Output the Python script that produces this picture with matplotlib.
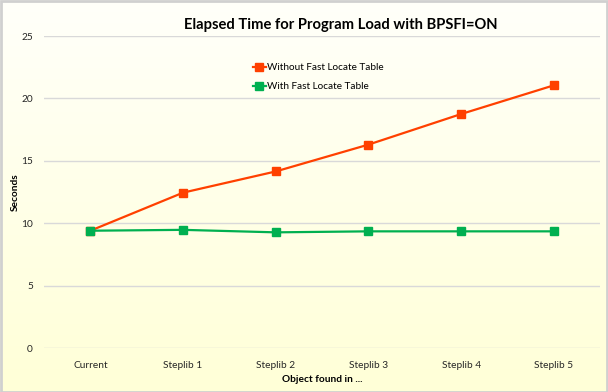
"""Elapsed time for program load, with and without the fast locate table."""

import matplotlib

matplotlib.use("Agg")

import matplotlib.pyplot as plt
import numpy as np
from matplotlib.patches import Rectangle

categories = ["Current", "Steplib 1", "Steplib 2", "Steplib 3", "Steplib 4", "Steplib 5"]
without_flt = [9.4, 12.45, 14.15, 16.3, 18.75, 21.05]
with_flt = [9.4, 9.47, 9.27, 9.35, 9.35, 9.35]
series_labels = ["Without Fast Locate Table", "With Fast Locate Table"]
y_ticks = [0, 5, 10, 15, 20, 25]

plt.rcParams["font.family"] = ["Lato", "DejaVu Sans"]

fig = plt.figure(figsize=(6.08, 3.92), dpi=100)

# background gradient: near white at top, pale yellow at bottom
bg_ax = fig.add_axes([0, 0, 1, 1], zorder=-10)
grad = np.linspace(0, 1, 256).reshape(-1, 1)
top = np.array([255, 255, 250]) / 255.0
bottom = np.array([255, 255, 215]) / 255.0
img = top[None, None, :] * (1 - grad[..., None]) + bottom[None, None, :] * grad[..., None]
bg_ax.imshow(img, aspect="auto", extent=[0, 1, 0, 1])
bg_ax.add_patch(Rectangle((0.001, 0.001), 0.997, 0.996, transform=bg_ax.transAxes,
                          fill=False, edgecolor="#D0D0D0", linewidth=2))
bg_ax.set_xlim(0, 1)
bg_ax.set_ylim(0, 1)
bg_ax.axis("off")

ax = fig.add_axes([0.0724, 0.1122, 0.9146, 0.7958])
ax.patch.set_alpha(0)

x = np.arange(len(categories))
ax.plot(x, without_flt, color="#FF4000", linewidth=1.6, marker="s", markersize=5.2,
        label=series_labels[0], zorder=3)
ax.plot(x, with_flt, color="#00B050", linewidth=1.6, marker="s", markersize=5.2,
        label=series_labels[1], zorder=3)

ax.set_xlim(-0.5, len(categories) - 0.5)
ax.set_ylim(0, 25)
ax.set_yticks(y_ticks)
ax.set_xticks(x)
ax.set_xticklabels(categories)
ax.grid(axis="y", color="#D9D9D9", linewidth=1)
ax.set_axisbelow(True)
for s in ax.spines.values():
    s.set_visible(False)
ax.tick_params(axis="both", length=0, labelsize=7.3, colors="#262626")
ax.tick_params(axis="x", pad=9)
ax.tick_params(axis="y", pad=8)

ax.set_xlabel("Object found in ...", fontsize=7.3, fontweight="bold", labelpad=4)
ax.set_ylabel("Seconds", fontsize=7.3, fontweight="bold", labelpad=1)

fig.text(0.561, 0.936, "Elapsed Time for Program Load with BPSFI=ON", ha="center",
         va="center", fontsize=10.6, fontweight="bold", color="#000000")

ax.legend(loc="upper left", bbox_to_anchor=(0.368, 0.925), frameon=False, fontsize=7.2,
          handlelength=1.3, handletextpad=0.15, labelspacing=1.0, borderaxespad=0)

fig.savefig("out.png", dpi=100)
